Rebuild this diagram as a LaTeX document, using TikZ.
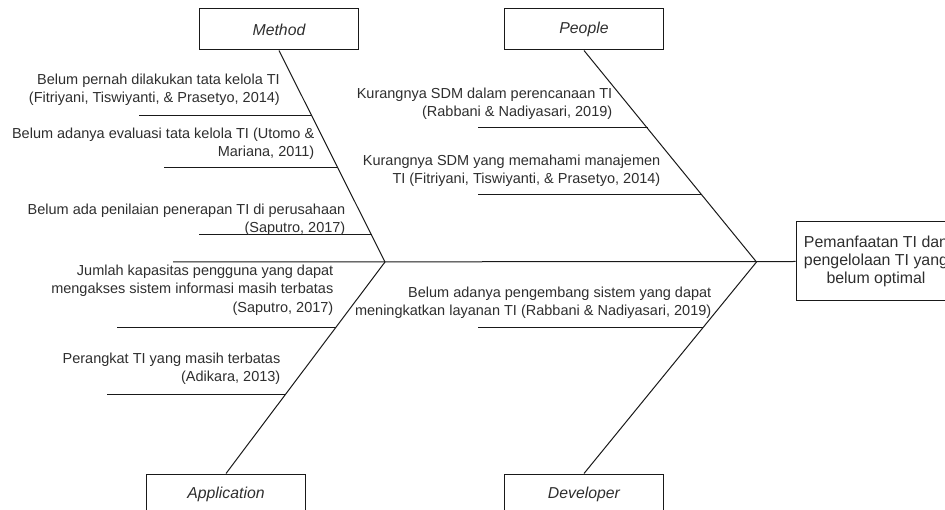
\documentclass[tikz,border=0pt]{standalone}
\usepackage{fontspec}
\setmainfont{Liberation Sans}
\begin{document}
\begin{tikzpicture}[x=1pt,y=-1pt,
  every node/.style={font=\fontsize{14.5}{18.3}\selectfont, text=black!82},
  catbox/.style={draw=black!90, line width=1pt, minimum width=159pt, minimum height=41pt, inner sep=0pt, font=\fontsize{15.8}{18.3}\selectfont\itshape},
  headbox/.style={draw=black!90, line width=1pt, minimum width=160pt, minimum height=79pt, inner sep=0pt, align=center, font=\fontsize{15.9}{18.3}\selectfont},
  cause/.style={anchor=east, align=right, inner sep=0pt},
  bone/.style={draw=black!90, line width=1pt}]
\useasboundingbox (0,0) rectangle (945,510);
\clip (0,0) rectangle (945,510);
% category boxes
\node[catbox] (method) at (279,29.5) {Method};
\node[catbox] (people) at (584,29.5) {People};
\node[catbox] (application) at (226,494.5) {Application};
\node[catbox] (developer) at (584,494.5) {Developer};
\node[headbox] (head) at (876,261.5) {Pemanfaatan TI dan\\pengelolaan TI yang\\belum optimal};
% junctions
\coordinate (jm) at (385,262);
\coordinate (jp) at (756.5,262);
\coordinate (spineL) at (173,262);
% spine and bones
\draw[bone] (spineL) -- (head.west);
\draw[bone] (method.south) -- (jm);
\draw[bone] (application.north) -- (jm);
\draw[bone] (people.south) -- (jp);
\draw[bone] (developer.north) -- (jp);
% rib coordinates
\coordinate (m1a) at (139,116); \coordinate (m1b) at (312,116);
\coordinate (m2a) at (164,168); \coordinate (m2b) at (338,168);
\coordinate (m3a) at (199,235); \coordinate (m3b) at (371.5,235);
\coordinate (p1a) at (478,128); \coordinate (p1b) at (647.5,128);
\coordinate (p2a) at (478,195); \coordinate (p2b) at (701.5,195);
\coordinate (a1a) at (117,328); \coordinate (a1b) at (335.5,328);
\coordinate (a2a) at (107,395); \coordinate (a2b) at (285,395);
\coordinate (d1a) at (478,328); \coordinate (d1b) at (703,328);
\foreach \r in {m1,m2,m3,p1,p2,a1,a2,d1} \draw[bone] (\r a) -- (\r b);
% cause texts
\node[cause] (tm1) at (280,90) {Belum pernah dilakukan tata kelola TI\\(Fitriyani, Tiswiyanti, \& Prasetyo, 2014)};
\node[cause] (tm2) at (314.5,144) {Belum adanya evaluasi tata kelola TI (Utomo \&\\Mariana, 2011)};
\node[cause] (tm3) at (345.5,220) {Belum ada penilaian penerapan TI di perusahaan\\(Saputro, 2017)};
\node[cause] (tp1) at (612.5,104) {Kurangnya SDM dalam perencanaan TI\\(Rabbani \& Nadiyasari, 2019)};
\node[cause] (tp2) at (660.5,171) {Kurangnya SDM yang memahami manajemen\\TI (Fitriyani, Tiswiyanti, \& Prasetyo, 2014)};
\node[cause] (ta1) at (333.5,290) {Jumlah kapasitas pengguna yang dapat\\mengakses sistem informasi masih terbatas\\(Saputro, 2017)};
\node[cause] (ta2) at (280.5,369) {Perangkat TI yang masih terbatas\\(Adikara, 2013)};
\node[cause] (td1) at (711.5,302.5) {Belum adanya pengembang sistem yang dapat\\meningkatkan layanan TI (Rabbani \& Nadiyasari, 2019)};
\end{tikzpicture}
\end{document}
